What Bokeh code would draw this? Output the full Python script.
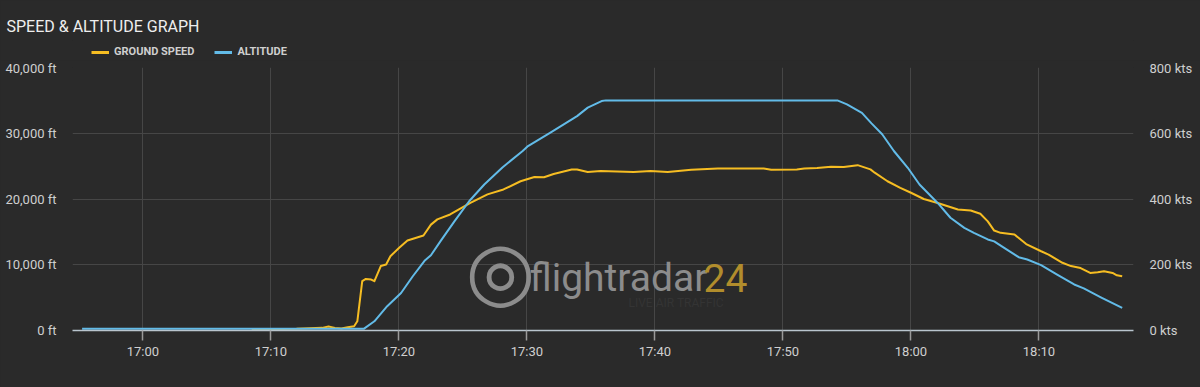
import pandas as pd
from bokeh.plotting import figure
from bokeh.layouts import column
from bokeh.models import (Range1d, LinearAxis, FixedTicker, CustomJSTickFormatter,
                          DatetimeTickFormatter, Legend, LegendItem, Label, Title,
                          ColumnDataSource)
from bokeh.embed import file_html
from bokeh.resources import INLINE

# ---------------- data ----------------
DAY = "2021-01-01 "

alt_times = ["16:55:15", "17:17:15", "17:18:05", "17:19:05", "17:20:10", "17:21:05",
             "17:22:00", "17:22:30", "17:23:15", "17:24:20", "17:25:30", "17:26:40",
             "17:28:05", "17:29:40", "17:30:05", "17:31:50", "17:33:55", "17:34:45",
             "17:35:50", "17:36:10", "17:54:15", "17:55:00", "17:56:10", "17:56:55",
             "17:57:45", "17:58:40", "17:59:45", "18:00:40", "18:02:05", "18:03:05",
             "18:04:10", "18:04:55", "18:06:00", "18:06:30", "18:07:15", "18:08:25",
             "18:09:05", "18:10:10", "18:11:25", "18:12:45", "18:13:30", "18:14:50",
             "18:16:30"]
altitude_ft = [250, 250, 1400, 3700, 5700, 8250,
               10600, 11450, 13600, 16600, 19700, 22200,
               24800, 27300, 28050, 30100, 32600, 33900,
               34900, 35000, 35000, 34400, 33100, 31500,
               29850, 27300, 24750, 22200, 19400, 17150,
               15600, 14850, 13850, 13550, 12600, 11150,
               10800, 9950, 8500, 7000, 6400, 5050,
               3450]

spd_times = ["17:08:30", "17:12:00", "17:14:00", "17:14:30", "17:15:00", "17:15:30",
             "17:16:00", "17:16:30", "17:16:45", "17:17:08", "17:17:25", "17:17:50",
             "17:18:05", "17:18:35", "17:19:00", "17:19:20", "17:20:00", "17:20:40",
             "17:21:55", "17:22:30", "17:23:00", "17:24:00", "17:25:35", "17:26:55",
             "17:28:10", "17:29:30", "17:30:35", "17:31:20", "17:32:05", "17:33:30",
             "17:33:55", "17:34:45", "17:35:45", "17:38:20", "17:39:40", "17:41:00",
             "17:42:50", "17:44:55", "17:48:30", "17:49:05", "17:51:05", "17:51:40",
             "17:52:40", "17:53:45", "17:54:45", "17:55:50", "17:56:50", "17:57:10",
             "17:58:10", "17:59:10", "18:00:00", "18:01:00", "18:02:05", "18:03:40",
             "18:04:40", "18:05:25", "18:06:00", "18:06:30", "18:07:00", "18:08:05",
             "18:09:00", "18:10:10", "18:10:45", "18:11:50", "18:12:30", "18:13:15",
             "18:14:00", "18:14:35", "18:15:05", "18:15:45", "18:16:05", "18:16:30"]
speed_kts = [3, 5, 8, 12, 8, 6,
             10, 13, 28, 150, 157, 155,
             150, 196, 201, 226, 251, 274,
             289, 322, 338, 353, 388, 414,
             429, 454, 467, 466, 476, 490,
             490, 482, 485, 482, 485, 482,
             489, 493, 493, 489, 490, 493,
             494, 498, 497, 503, 490, 480,
             454, 434, 419, 400, 388, 368,
             365, 355, 332, 304, 297, 292,
             263, 241, 231, 206, 196, 190,
             175, 177, 180, 175, 168, 165]

x_tick_labels = ["17:00", "17:10", "17:20", "17:30", "17:40", "17:50", "18:00", "18:10"]
alt_ticks = [0, 10000, 20000, 30000, 40000]
spd_ticks = [0, 200, 400, 600, 800]
x_start, x_end = "16:54:30", "18:17:23"

# ---------------- style ----------------
BG = "#2a2a2a"
GRID = "#464646"
TXT = "#cfcfcf"
YELLOW = "#f6bd22"
BLUE = "#62bbe8"
FONT = "Roboto"
TOP_H = 60
BG_STYLE = {"background-color": BG}


def to_dt(ts):
    return pd.to_datetime([DAY + t for t in ts])


alt_src = ColumnDataSource(dict(t=to_dt(alt_times), v=altitude_ft))
spd_src = ColumnDataSource(dict(t=to_dt(spd_times), v=speed_kts))
xs = to_dt([x_start, x_end])

# ---------------- header figure (title + legend) ----------------
top = figure(width=1200, height=TOP_H, x_range=Range1d(xs[0], xs[1]),
             y_range=Range1d(-60000, -50000),
             output_backend="svg", toolbar_location=None, title=None,
             x_axis_location=None, y_axis_location=None,
             min_border_left=0, min_border_right=0, min_border_top=0, min_border_bottom=0)
top.styles = BG_STYLE
top.background_fill_color = BG
top.border_fill_color = BG
top.outline_line_color = None
top.xgrid.visible = False
top.ygrid.visible = False

top.add_layout(Title(text="SPEED & ALTITUDE GRAPH", align="left", offset=-66, standoff=10,
                     text_font=FONT, text_font_size="16px", text_font_style="normal",
                     text_color="#eeeeee"), "above")
# spacer above the title
top.add_layout(Title(text=" ", standoff=0, text_font_size="7px"), "above")

# legend entries use the real series (they fall outside this header strip's view)
leg_spd = top.line("t", "v", source=spd_src, line_color=YELLOW, line_width=3)
leg_alt = top.line("t", "v", source=alt_src, line_color=BLUE, line_width=3)
legend = Legend(items=[LegendItem(label="GROUND SPEED", renderers=[leg_spd]),
                       LegendItem(label="ALTITUDE", renderers=[leg_alt])],
                orientation="horizontal", location=(19, 2), padding=0, margin=0,
                spacing=20, glyph_width=18, glyph_height=12, label_height=12,
                label_standoff=5, label_text_font=FONT, label_text_font_size="11px",
                label_text_font_style="bold", label_text_color=TXT,
                background_fill_alpha=0, border_line_alpha=0)
top.add_layout(legend, "center")

# ---------------- chart figure ----------------
p = figure(width=1200, height=387 - TOP_H, x_axis_type="datetime",
           x_range=Range1d(xs[0], xs[1]), y_range=Range1d(0, 40000),
           output_backend="svg", toolbar_location=None, title=None,
           min_border_left=72, min_border_right=67, min_border_top=67 - TOP_H,
           min_border_bottom=57)
p.styles = BG_STYLE
p.background_fill_color = BG
p.border_fill_color = BG
p.outline_line_color = None

p.extra_y_ranges = {"spd": Range1d(0, 800)}

# x axis
xt = [int(v.value // 10**6) for v in to_dt([t + ":00" for t in x_tick_labels])]
xax = p.xaxis[0]
xax.ticker = FixedTicker(ticks=xt)
xax.formatter = DatetimeTickFormatter(minutes="%H:%M", hourmin="%H:%M", hours="%H:%M",
                                      minsec="%H:%M", seconds="%H:%M", days="%H:%M")
xax.axis_line_color = "#b9c5ce"
xax.axis_line_width = 1.5
xax.major_tick_line_color = "#9a9a9a"
xax.major_tick_line_width = 1.5
xax.major_tick_out = 10
xax.major_tick_in = 0
xax.minor_tick_line_color = None
xax.minor_tick_out = 0
xax.major_label_standoff = 3
xax.major_label_text_font = FONT
xax.major_label_text_font_size = "13px"
xax.major_label_text_color = TXT


def style_y(ax):
    ax.axis_line_color = None
    ax.major_tick_line_color = None
    ax.minor_tick_line_color = None
    ax.major_tick_out = 0
    ax.major_tick_in = 0
    ax.minor_tick_out = 0
    ax.minor_tick_in = 0
    ax.major_label_standoff = 16
    ax.major_label_text_font = FONT
    ax.major_label_text_font_size = "13px"
    ax.major_label_text_color = TXT


# left axis
yax = p.yaxis[0]
yax.ticker = FixedTicker(ticks=alt_ticks)
yax.formatter = CustomJSTickFormatter(code="return tick.toLocaleString('en-US') + ' ft';")
style_y(yax)

# right axis
rax = LinearAxis(y_range_name="spd", ticker=FixedTicker(ticks=spd_ticks),
                 formatter=CustomJSTickFormatter(code="return tick + ' kts';"))
style_y(rax)
p.add_layout(rax, "right")

p.xgrid.grid_line_color = GRID
p.ygrid.grid_line_color = GRID
p.xgrid.ticker = FixedTicker(ticks=xt)
p.ygrid.ticker = FixedTicker(ticks=alt_ticks)

# watermark
wm_kw = dict(x_units="screen", y_units="screen", level="underlay")
p.add_layout(Label(x=428, y=60, text="\u25ce", text_font="DejaVu Sans", text_font_size="80px",
                   text_color="#8c8c8c", text_align="center", text_baseline="middle", **wm_kw))
p.add_layout(Label(x=457, y=53, text="flightradar", text_font=FONT, text_font_size="39px",
                   text_color="#8c8c8c", text_baseline="alphabetic", **wm_kw))
p.add_layout(Label(x=631, y=53, text="24", text_font=FONT, text_font_size="39px",
                   text_color="#b18d2c", text_baseline="alphabetic", **wm_kw))
p.add_layout(Label(x=556, y=28, text="LIVE AIR TRAFFIC", text_font=FONT, text_font_size="12px",
                   text_color="#343434", text_baseline="alphabetic", **wm_kw))

# lines
p.line("t", "v", source=spd_src, y_range_name="spd", line_color=YELLOW,
       line_width=2, line_join="round")
p.line("t", "v", source=alt_src, line_color=BLUE, line_width=2, line_join="round")

layout = column(top, p, spacing=0, styles=BG_STYLE)
open("out.html", "w").write(file_html(layout, INLINE))
